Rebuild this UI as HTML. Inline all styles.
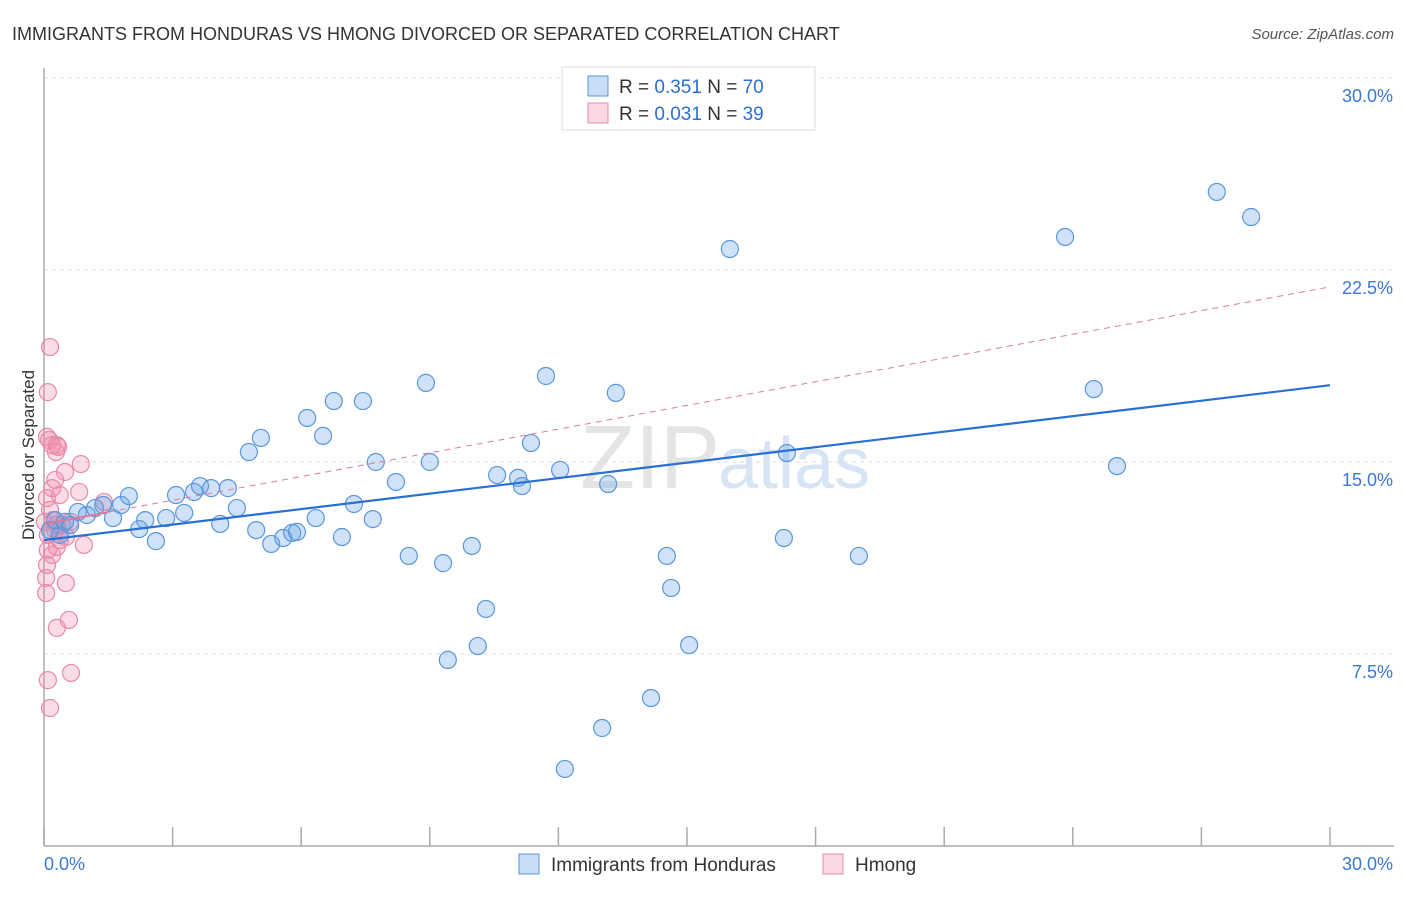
<!DOCTYPE html>
<html><head><meta charset="utf-8">
<style>
body{margin:0;background:#fff;font-family:"Liberation Sans",sans-serif;}
svg text{font-family:"Liberation Sans",sans-serif;}
</style></head>
<body>
<svg id="chart" width="1406" height="892">
<text x="12" y="40" font-size="18" fill="#333">IMMIGRANTS FROM HONDURAS VS HMONG DIVORCED OR SEPARATED CORRELATION CHART</text>
<text x="1394" y="39" font-size="15" fill="#555" text-anchor="end" font-style="italic">Source: ZipAtlas.com</text>
<text x="720" y="488" font-size="90" fill="#e4e4e4" text-anchor="end" font-family="Liberation Serif">ZIP</text>
<text x="718" y="488" font-size="72" fill="#d6e4f4">atlas</text>
<g id="grid"></g>
<g id="axes"></g>
<g id="marks"></g>
<text transform="translate(34,455) rotate(-90)" font-size="17" fill="#333" text-anchor="middle">Divorced or Separated</text>
<g>
<rect x="562" y="67" width="253" height="63" fill="#fff" stroke="#ddd"/>
<rect x="588" y="76" width="20" height="20" fill="rgba(100,160,230,0.35)" stroke="#5a96dc"/>
<text x="619" y="93" font-size="19" fill="#333">R = <tspan fill="#2a6fd6">0.351</tspan>   N = <tspan fill="#2a6fd6">70</tspan></text>
<rect x="588" y="103" width="20" height="20" fill="rgba(240,140,170,0.35)" stroke="#e88aa8"/>
<text x="619" y="120" font-size="19" fill="#333">R = <tspan fill="#2a6fd6">0.031</tspan>   N = <tspan fill="#2a6fd6">39</tspan></text>
</g>
<g>
<rect x="519" y="854" width="20" height="20" fill="rgba(100,160,230,0.35)" stroke="#5a96dc"/>
<text x="551" y="871" font-size="19" fill="#333">Immigrants from Honduras</text>
<rect x="823" y="854" width="20" height="20" fill="rgba(240,140,170,0.35)" stroke="#e88aa8"/>
<text x="855" y="871" font-size="19" fill="#333">Hmong</text>
</g>
</svg>
<script>
const yTicks=[7.5,15,22.5,30];
const yTickLabels=["7.5%","15.0%","22.5%","30.0%"];
const xTicks=[0,3,6,9,12,15,18,21,24,27,30];
const blueX=[0.14,0.26,0.37,0.49,0.61,0.79,1.00,1.19,1.38,1.61,1.80,1.98,2.22,2.36,2.61,2.85,3.08,3.27,3.50,3.64,3.90,4.11,4.29,4.50,4.78,4.95,5.06,5.30,5.58,5.79,5.90,6.14,6.34,6.51,6.76,6.95,7.23,7.44,7.67,7.74,8.21,8.51,8.91,9.00,9.31,9.42,9.98,10.12,10.31,10.57,11.06,11.15,11.36,11.71,12.04,12.15,13.02,13.16,13.34,14.16,14.53,14.63,15.05,16.00,17.26,17.33,19.01,23.82,24.49,25.03,27.36,28.16];
const blueY=[12.34,12.73,12.15,12.66,12.54,13.05,12.93,13.20,13.32,12.81,13.32,13.67,12.38,12.73,11.91,12.81,13.71,13.01,13.83,14.06,13.98,12.58,13.98,13.20,15.39,12.34,15.94,11.80,12.03,12.23,12.27,16.72,12.81,16.02,17.38,12.07,13.36,17.38,12.77,15.00,14.22,11.33,18.09,15.00,11.05,7.27,11.72,7.81,9.26,14.49,14.38,14.06,15.74,18.36,14.69,3.01,4.61,14.14,17.70,5.78,11.33,10.08,7.85,23.32,12.03,15.35,11.33,23.79,17.85,14.84,25.55,24.57];
const pinkX=[0.14,0.09,0.07,0.12,0.19,0.30,0.28,0.33,0.49,0.86,0.07,0.19,0.26,0.37,0.82,1.40,0.14,0.21,0.30,0.09,0.26,0.37,0.51,0.09,0.19,0.30,0.93,0.05,0.51,0.05,0.58,0.30,0.09,0.63,0.14,0.07,0.42,0.61,0.02];
const pinkY=[19.49,17.73,15.98,15.86,15.66,15.66,15.39,15.59,14.61,14.92,13.59,13.98,14.30,13.71,13.83,13.44,13.13,12.73,12.54,12.15,12.34,11.95,12.07,11.56,11.37,11.68,11.76,10.47,10.27,9.88,8.83,8.52,6.48,6.76,5.39,10.98,12.54,12.66,12.66];
const blueTrend=[11.95,18.0];
const pinkTrend=[12.58,21.84];
const NS="http://www.w3.org/2000/svg";
const X0=44,X1=1330,Y0=846,Y30=78;
const sx=v=>X0+(X1-X0)*v/30;
const sy=v=>Y0-(Y0-Y30)*v/30;
function mk(tag,attrs,parent){const e=document.createElementNS(NS,tag);for(const k in attrs)e.setAttribute(k,attrs[k]);parent.appendChild(e);return e;}
const grid=document.getElementById('grid'),axes=document.getElementById('axes'),marks=document.getElementById('marks');
yTicks.forEach((t,i)=>{
 const l=mk('line',{x1:X0,x2:1394,y1:sy(t),y2:sy(t),stroke:'#ddd','stroke-dasharray':'4,4'},grid);
 
 
 const tx=mk('text',{x:1393,y:sy(t)+24,'font-size':18,fill:'#3a78d8','text-anchor':'end'},axes);
 tx.textContent=yTickLabels[i];
 
 
});
const ya=mk('line',{x1:X0,x2:X0,y1:68,y2:Y0,stroke:'#aaa','stroke-width':1.5},axes);


const xa=mk('line',{x1:X0,x2:1394,y1:Y0,y2:Y0,stroke:'#aaa','stroke-width':1.5},axes);


xTicks.forEach(t=>{
 const l=mk('line',{x1:sx(t),x2:sx(t),y1:827,y2:Y0,stroke:'#aaa','stroke-width':1.5},axes);
 
 
});
const xl0=mk('text',{x:44,y:870,'font-size':18,fill:'#3a78d8'},axes);xl0.textContent='0.0%';


const xl1=mk('text',{x:1393,y:870,'font-size':18,fill:'#3a78d8','text-anchor':'end'},axes);xl1.textContent='30.0%';


pinkX.forEach((v,i)=>{
 const c=mk('circle',{cx:sx(v),cy:sy(pinkY[i]),r:8.5,fill:'rgba(240,140,170,0.3)',stroke:'#e88aa8','stroke-width':1.2},marks);
 
 
});
blueX.forEach((v,i)=>{
 const c=mk('circle',{cx:sx(v),cy:sy(blueY[i]),r:8.5,fill:'rgba(100,160,230,0.3)',stroke:'#5a96dc','stroke-width':1.2},marks);
 
 
});
const pl=mk('line',{x1:sx(0),y1:sy(pinkTrend[0]),x2:sx(30),y2:sy(pinkTrend[1]),stroke:'#e07a9a','stroke-width':1,'stroke-dasharray':'6,5'},marks);


const ps=mk('line',{x1:sx(0),y1:sy(pinkTrend[0]),x2:sx(1.5),y2:sy(pinkTrend[0]+(pinkTrend[1]-pinkTrend[0])*0.05),stroke:'#e07a9a','stroke-width':2},marks);


const bl=mk('line',{x1:sx(0),y1:sy(blueTrend[0]),x2:sx(30),y2:sy(blueTrend[1]),stroke:'#2a6fd6','stroke-width':2.2},marks);


</script>
</body></html>
